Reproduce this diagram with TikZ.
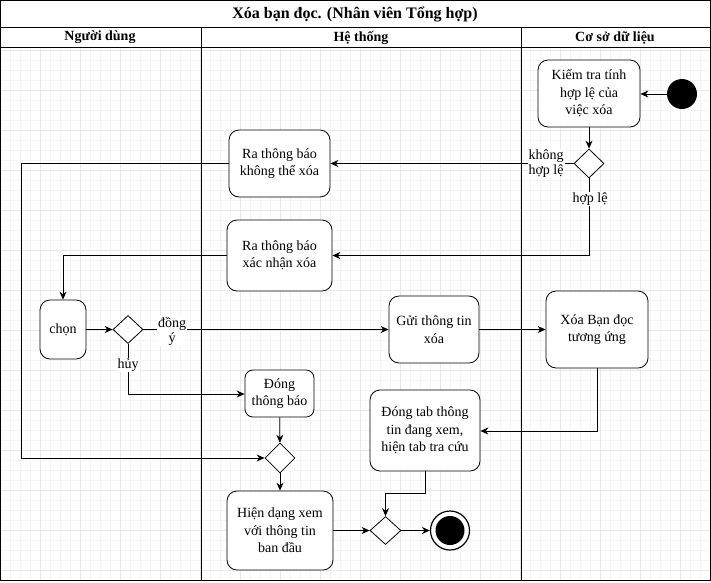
\documentclass[tikz,border=0pt]{standalone}
\usepackage{fontspec}
\setmainfont{Liberation Serif}
\usetikzlibrary{shapes.geometric,arrows.meta}
\begin{document}
\begin{tikzpicture}[x=1pt,y=-1pt,
  act/.style={draw, rounded corners=10pt, fill=white, align=center, line width=0.8pt,
    font=\fontsize{14}{17.5}\selectfont, inner sep=1pt},
  dec/.style={draw, diamond, fill=white, inner sep=0pt, line width=0.8pt, minimum width=30pt, minimum height=29pt},
  flow/.style={line width=0.8pt, -{Stealth[length=8pt,width=7pt]}},
  plain/.style={line width=0.8pt},
  lbl/.style={fill=white, inner sep=1pt, align=center, font=\fontsize{14}{15}\selectfont},
  gridminor/.style={black!4, line width=0.5pt},
  gridmajor/.style={black!9, line width=0.6pt},
  hdr/.style={font=\bfseries\fontsize{14}{16}\selectfont}
]
\useasboundingbox (0,0) rectangle (711,582);
\fill[white] (0,0) rectangle (711,582);
% grid
\foreach \x in {10,20,...,700} \draw[gridminor] (\x,47) -- (\x,580);
\foreach \y in {50,60,...,570} \draw[gridminor] (0,\y) -- (710,\y);
\foreach \x in {40,80,...,680} \draw[gridmajor] (\x,47) -- (\x,580);
\foreach \y in {50,90,...,570} \draw[gridmajor] (0,\y) -- (710,\y);
% pool frame
\draw[line width=1pt] (0.5,0.5) rectangle (710,580);
\draw[line width=1pt] (0.5,27) -- (710,27);
\draw[line width=1pt] (0.5,47) -- (710,47);
\draw[line width=1pt] (201,27) -- (201,580);
\draw[line width=1pt] (521,27) -- (521,580);
\node[font=\bfseries\fontsize{16}{18}\selectfont] (title) at (355,14) {Xóa bạn đọc. (Nhân viên Tổng hợp)};
\node[hdr] (h1) at (100,37.5) {Người dùng};
\node[hdr] (h2) at (361,37.5) {Hệ thống};
\node[hdr] (h3) at (615,37.5) {Cơ sở dữ liệu};
% nodes
\node[circle, fill=black, minimum size=30pt, inner sep=0pt] (start) at (682,94) {};
\node[act, minimum width=102pt, minimum height=67pt] (check) at (589,93.5) {Kiểm tra tính\\hợp lệ của\\việc xóa};
\node[dec] (d1) at (589,163.5) {};
\node[act, minimum width=101pt, minimum height=67pt] (noti1) at (279.5,163.5) {Ra thông báo\\không thể xóa};
\node[act, minimum width=105pt, minimum height=71pt] (noti2) at (279.5,255.5) {Ra thông báo\\xác nhận xóa};
\node[act, minimum width=46pt, minimum height=59pt] (chon) at (63,329.5) {chọn};
\node[dec, minimum height=28pt] (d2) at (128,329.5) {};
\node[act, minimum width=90pt, minimum height=67pt] (send) at (434,329.5) {Gửi thông tin\\xóa};
\node[act, minimum width=102pt, minimum height=77pt] (del) at (597,329.5) {Xóa Bạn đọc\\tương ứng};
\node[act, minimum width=69pt, minimum height=47pt, rounded corners=8pt] (close) at (279.5,393.5) {Đóng\\thông báo};
\node[act, minimum width=110pt, minimum height=81pt] (closetab) at (425,430.5) {Đóng tab thông\\tin đang xem,\\hiện tab tra cứu};
\node[dec, minimum height=30pt] (d3) at (280,458) {};
\node[act, minimum width=106pt, minimum height=79pt] (show) at (280,530.5) {Hiện dạng xem\\với thông tin\\ban đầu};
\node[dec, minimum width=31pt, minimum height=28pt] (d4) at (385.5,530.5) {};
\node[circle, draw, line width=1.2pt, fill=white, minimum size=39pt, inner sep=0pt,
  path picture={\fill[black] (path picture bounding box.center) circle (14.5pt);}] (end) at (450,530.5) {};
% coordinates
\coordinate (c1) at (21,163.5);
\coordinate (c2) at (21,458);
\coordinate (c3) at (589,255.5);
\coordinate (c4) at (63,255.5);
\coordinate (c5) at (128,394);
\coordinate (c6) at (597,431);
\coordinate (c7) at (425,493);
\coordinate (c8) at (385.5,493);
% edges
\draw[flow] (start) -- (check.east |- start);
\draw[flow] (check) -- (d1);
\draw[flow] (d1.west) -- (noti1.east |- d1.west);
\draw[flow] (d1.south) -- (c3) -- (noti2.east);
\draw[flow] (noti1.west) -- (c1) -- (c2) -- (d3.west);
\draw[flow] (noti2.west) -- (c4) -- (chon.north);
\draw[flow] (chon.east) -- (d2.west);
\draw[flow] (d2.east) -- (send.west);
\draw[flow] (d2.south) -- (c5) -- (close.west |- c5);
\draw[flow] (close) -- (d3);
\draw[flow] (d3) -- (show);
\draw[flow] (send) -- (del);
\draw[flow] (del.south) -- (c6) -- (closetab.east |- c6);
\draw[flow] (closetab.south) -- (c7) -- (c8) -- (d4.north);
\draw[flow] (show.east) -- (d4.west);
\draw[flow] (d4.east) -- (end.west);
% labels
\node[lbl] (l1) at (546,163.5) {không\\hợp lệ};
\node[lbl] (l2) at (590,199) {hợp lệ};
\node[lbl] (l3) at (172,331) {đồng\\ý};
\node[lbl] (l4) at (128,365) {hủy};
\end{tikzpicture}
\end{document}
